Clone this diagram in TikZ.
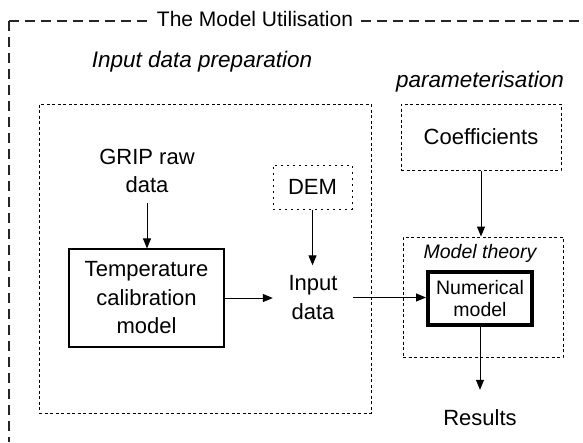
\documentclass[tikz,border=0pt]{standalone}
\usepackage{fontspec}
\setmainfont{Liberation Sans}
\usetikzlibrary{arrows.meta}
\begin{document}
\begin{tikzpicture}[x=1pt,y=-1pt,
  txt/.style={font=\fontsize{22}{28.5}\selectfont, align=center, inner sep=0pt},
  lbl/.style={font=\fontsize{22.5}{27}\selectfont\itshape, inner sep=0pt},
  small/.style={font=\fontsize{19.5}{22}\selectfont, align=center, inner sep=0pt},
  outerline/.style={line width=1.2pt, dash pattern=on 10pt off 6pt, draw=black!85},
  dotbox/.style={draw, line width=1pt, dash pattern=on 3pt off 2.5pt, inner sep=0pt},
  dembox/.style={draw, line width=1pt, dash pattern=on 2pt off 4pt, inner sep=0pt},
  solidbox/.style={draw, line width=1.2pt, inner sep=0pt},
  thickbox/.style={draw, line width=4pt, inner sep=0pt},
  arr/.style={line width=1pt, -{Triangle[length=10pt,width=8pt]}}
]
\fill[white] (0,0) rectangle (583,442);
\useasboundingbox (0,0) rectangle (583,442);

% outer frame
\coordinate (oc) at (9,21);
\coordinate (obl) at (9,442);
\coordinate (otr) at (583,21);
\draw[outerline] (oc) -- (obl);
\draw[outerline] (oc) -- (otr);
\node[font=\fontsize{21}{24}\selectfont, fill=white, inner xsep=5pt, inner ysep=2pt] (title) at (255,19) {The Model Utilisation};

% section labels
\node[lbl] (prep) at (202,62) {Input data preparation};
\node[lbl] (param) at (480,82) {parameterisation};

% containers
\node[dotbox, minimum width=332pt, minimum height=309pt] (big) at (205,258.5) {};
\node[dotbox, minimum width=160pt, minimum height=120pt] (mt) at (483,297) {};
\node[small, font=\fontsize{19.5}{22}\selectfont\itshape] (mtlabel) at (480,253) {Model theory};

% nodes
\node[txt, minimum height=64pt] (grip) at (147,171) {GRIP raw\\data};
\node[txt, solidbox, minimum width=155pt, minimum height=98pt] (temp) at (146.5,298) {Temperature\\calibration\\model};
\node[txt, dembox, minimum width=79pt, minimum height=44pt] (dem) at (312.5,187) {DEM};
\node[txt, minimum width=80pt, minimum height=64pt] (input) at (313,297.5) {Input\\data};
\node[txt, dotbox, minimum width=160pt, minimum height=66pt] (coef) at (481,137) {Coefficients};
\node[small, thickbox, minimum width=104pt, minimum height=53pt] (num) at (480,298.5) {Numerical\\model};
\node[txt, minimum height=56pt] (res) at (480,418) {Results};

% connectors
\draw[arr] (grip.south) -- (grip.south |- temp.north);
\draw[arr] (temp.east) -- (temp.east -| input.west);
\draw[arr] (dem.south) -- (dem.south |- input.north);
\draw[arr] (input.east) -- (input.east -| num.west);
\draw[arr] (coef.south) -- (coef.south |- mt.north);
\draw[arr, line width=0.8pt] (num.south) -- (num.south |- res.north);
\end{tikzpicture}
\end{document}
